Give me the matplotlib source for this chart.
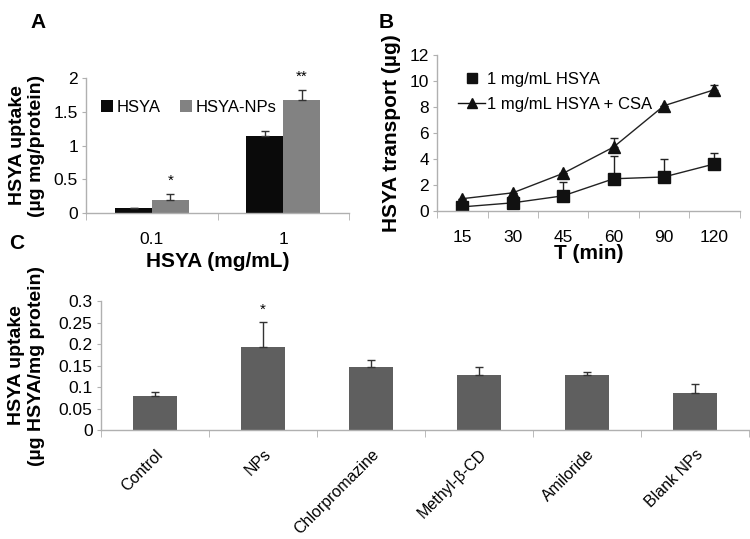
import numpy as np
import matplotlib.pyplot as plt
from matplotlib.lines import Line2D

plt.rcParams['font.family'] = ['Liberation Sans', 'DejaVu Sans']

# panel A
a_groups = ['0.1', '1']
a_hsya = [0.08, 1.14]
a_hsya_err = [0.0, 0.07]
a_nps = [0.19, 1.67]
a_nps_err = [0.09, 0.15]
a_stars = ['*', '**']

# panel B
b_times = ['15', '30', '45', '60', '90', '120']
b_hsya = [0.32, 0.63, 1.17, 2.48, 2.62, 3.62]
b_hsya_err = [0.0, 0.0, 1.03, 1.72, 1.36, 0.82]
b_csa = [0.95, 1.4, 2.9, 4.92, 8.1, 9.33]
b_csa_err = [0.0, 0.0, 0.0, 0.72, 0.0, 0.4]

# panel C
c_groups = ['Control', 'NPs', 'Chlorpromazine', 'Methyl-β-CD', 'Amiloride', 'Blank NPs']
c_vals = [0.079, 0.193, 0.146, 0.127, 0.127, 0.085]
c_err = [0.009, 0.058, 0.016, 0.019, 0.008, 0.022]

axis_grey = '#b0b0b0'

def style_axes(ax):
    for s in ['top', 'right']:
        ax.spines[s].set_visible(False)
    for s in ['left', 'bottom']:
        ax.spines[s].set_color(axis_grey)
        ax.spines[s].set_linewidth(1.0)
    ax.tick_params(axis='y', length=3, color=axis_grey, pad=3)
    ax.tick_params(axis='x', which='major', length=0)
    ax.tick_params(axis='x', which='minor', length=5, color=axis_grey)

fig = plt.figure(figsize=(7.5, 5.39), dpi=100)

# ---- A
axA = fig.add_axes([0.115, 0.605, 0.35, 0.25])
x = np.arange(len(a_groups))
w = 0.28
axA.bar(x - w / 2, a_hsya, w, color='#0a0a0a', label='HSYA',
        yerr=[np.zeros(2), a_hsya_err], error_kw=dict(ecolor='#333333', elinewidth=1, capsize=3))
axA.bar(x + w / 2, a_nps, w, color='#828282', label='HSYA-NPs',
        yerr=[np.zeros(2), a_nps_err], error_kw=dict(ecolor='#333333', elinewidth=1, capsize=3))
for i, s in enumerate(a_stars):
    axA.text(x[i] + w / 2, a_nps[i] + a_nps_err[i] + 0.1, s, ha='center', va='bottom',
             fontsize=11, clip_on=False)
axA.set_xlim(-0.5, 1.5)
axA.set_ylim(0, 2)
axA.set_yticks([0, 0.5, 1, 1.5, 2])
axA.set_yticklabels(['0', '0.5', '1', '1.5', '2'])
axA.set_xticks(x)
axA.set_xticklabels(a_groups)
axA.set_xticks([-0.5, 0.5, 1.5], minor=True)
style_axes(axA)
axA.tick_params(labelsize=12.5)
axA.tick_params(axis='x', which='major', pad=14)
axA.set_xlabel('HSYA (mg/mL)', fontsize=15, fontweight='bold', labelpad=3)
axA.set_ylabel('HSYA uptake\n(µg mg/protein)', fontsize=14, fontweight='bold', labelpad=6)
axA.legend(loc='upper left', bbox_to_anchor=(0.0, 0.95), ncol=2, frameon=False, fontsize=12,
           handlelength=0.7, handleheight=0.7, handletextpad=0.2, columnspacing=1.2)

# ---- B
axB = fig.add_axes([0.583, 0.6085, 0.403, 0.2894])
xb = np.arange(len(b_times))
axB.errorbar(xb, b_hsya, yerr=[np.zeros(6), b_hsya_err], color='#222222', lw=1,
             marker='s', ms=8.5, mfc='#111111', mec='#111111', capsize=3, elinewidth=1)
axB.errorbar(xb, b_csa, yerr=[np.zeros(6), b_csa_err], color='#222222', lw=1,
             marker='^', ms=8.5, mfc='#111111', mec='#111111', capsize=3, elinewidth=1)
axB.set_xlim(-0.5, 5.5)
axB.set_ylim(0, 12)
axB.set_yticks(range(0, 13, 2))
axB.set_xticks(xb)
axB.set_xticklabels(b_times)
axB.set_xticks(np.arange(-0.5, 6, 1), minor=True)
style_axes(axB)
axB.tick_params(labelsize=12.5)
axB.tick_params(axis='x', which='major', pad=14)
axB.set_xlabel('T (min)', fontsize=15, fontweight='bold', labelpad=-1)
axB.set_ylabel('HSYA transport (µg)', fontsize=15, fontweight='bold', labelpad=6)
h1 = Line2D([], [], ls='none', marker='s', ms=7, color='#111111')
h2 = Line2D([], [], lw=1, marker='^', ms=7, color='#111111')
axB.legend([h1, h2], ['1 mg/mL HSYA', '1 mg/mL HSYA + CSA'], loc='upper left',
           bbox_to_anchor=(0.02, 0.99), frameon=False, fontsize=12,
           handlelength=1.6, handletextpad=0.1, labelspacing=0.6)

# ---- C
axC = fig.add_axes([0.1347, 0.2022, 0.864, 0.2393])
xc = np.arange(len(c_groups))
axC.bar(xc, c_vals, 0.41, color='#5f5f5f',
        yerr=[np.zeros(6), c_err], error_kw=dict(ecolor='#333333', elinewidth=1, capsize=3))
axC.text(xc[1], c_vals[1] + c_err[1] + 0.012, '*', ha='center', va='bottom', fontsize=11)
axC.set_xlim(-0.5, 5.5)
axC.set_ylim(0, 0.3)
axC.set_yticks([0, 0.05, 0.1, 0.15, 0.2, 0.25, 0.3])
axC.set_yticklabels(['0', '0.05', '0.1', '0.15', '0.2', '0.25', '0.3'])
axC.set_xticks(xc)
axC.set_xticklabels(c_groups, rotation=45, ha='right', va='top', rotation_mode='anchor',
                    fontsize=11.5)
axC.set_xticks(np.arange(-0.5, 6, 1), minor=True)
style_axes(axC)
axC.tick_params(axis='y', labelsize=12.5)
axC.tick_params(axis='x', which='major', pad=12)
axC.set_ylabel('HSYA uptake\n(µg HSYA/mg protein)', fontsize=14, fontweight='bold', labelpad=10)

fig.text(0.04, 0.975, 'A', fontsize=15, fontweight='bold', va='top')
fig.text(0.505, 0.975, 'B', fontsize=15, fontweight='bold', va='top')
fig.text(0.012, 0.565, 'C', fontsize=15, fontweight='bold', va='top')

fig.savefig('out.png', dpi=100)
